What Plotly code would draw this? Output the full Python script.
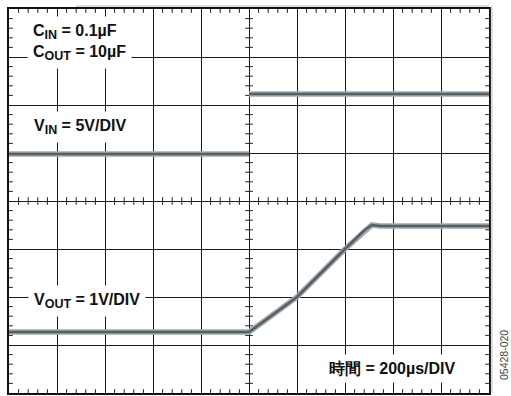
import plotly.graph_objects as go

# time in microseconds (10 div x 200 us), vertical in divisions (8 div)
vin_t = [0, 1000, None, 1000, 2000]
vin_div = [4.98, 4.98, None, 6.23, 6.23]

vout_t = [0, 1000, 1058, 1200, 1400, 1483, 1512, 1546, 2000]
vout_div = [1.27, 1.27, 1.48, 2.0, 3.0, 3.40, 3.50, 3.48, 3.48]

x_major = 200
y_major = 1
n_minor = 5

fig = go.Figure()
for t, v in [(vin_t, vin_div), (vout_t, vout_div)]:
    fig.add_trace(go.Scatter(x=t, y=v, mode="lines", connectgaps=False,
                             line=dict(color="#a3aaad", width=5.5), hoverinfo="skip"))
    fig.add_trace(go.Scatter(x=t, y=v, mode="lines", connectgaps=False,
                             line=dict(color="#566064", width=2.5), hoverinfo="skip"))

shapes = []
tick_x = 16
tick_y = 0.08
xmin, xmax, ymin, ymax = 0, 2000, 0, 8
xc, yc = 1000, 4
line = dict(color="#222", width=1)
nx = int((xmax - xmin) / x_major * n_minor)
for i in range(1, nx):
    if i % n_minor == 0:
        continue
    x = xmin + i * x_major / n_minor
    shapes.append(dict(type="line", x0=x, x1=x, y0=ymin, y1=ymin + tick_y, line=line, layer="below"))
    shapes.append(dict(type="line", x0=x, x1=x, y0=ymax - tick_y, y1=ymax, line=line, layer="below"))
    shapes.append(dict(type="line", x0=x, x1=x, y0=yc - tick_y, y1=yc + tick_y, line=line, layer="below"))
ny = int((ymax - ymin) / y_major * n_minor)
for i in range(1, ny):
    if i % n_minor == 0:
        continue
    y = ymin + i * y_major / n_minor
    shapes.append(dict(type="line", x0=xmin, x1=xmin + tick_x, y0=y, y1=y, line=line, layer="below"))
    shapes.append(dict(type="line", x0=xmax - tick_x, x1=xmax, y0=y, y1=y, line=line, layer="below"))
    shapes.append(dict(type="line", x0=xc - tick_x, x1=xc + tick_x, y0=y, y1=y, line=line, layer="below"))

# faint scan edges (top and right)
shapes.append(dict(type="line", xref="paper", yref="paper", x0=0.14, x1=1.0, y0=1.008, y1=1.008,
                   line=dict(color="#dcdcdc", width=2)))
shapes.append(dict(type="line", xref="paper", yref="paper", x0=1.006, x1=1.006, y0=0.0, y1=1.008,
                   line=dict(color="#dcdcdc", width=2)))


def sub(s):
    return "<sub><span style='font-size:12.5px'>" + s + "</span></sub>"


font = dict(family="Liberation Sans, Arial, sans-serif", size=16, color="#111", weight="bold")
ann = [
    dict(x=75, y=7.30, text="C" + sub("IN") + " = 0.1µF<br>C" + sub("OUT") + " = 10µF"),
    dict(x=79, y=5.54, text="V" + sub("IN") + " = 5V/DIV"),
    dict(x=79, y=1.92, text="V" + sub("OUT") + " = 1V/DIV"),
    dict(x=1308, y=0.51, text="時間 = 200µs/DIV"),
]
annotations = []
for a in ann:
    annotations.append(dict(**a, xref="x", yref="y", xanchor="left", yanchor="middle", align="left",
                            showarrow=False, font=font, bgcolor="white", borderpad=5))
annotations.append(dict(x=1.03, y=0.10, xref="paper", yref="paper", text="05428-020",
                        textangle=-90, showarrow=False, xanchor="center", yanchor="middle",
                        font=dict(family="Liberation Sans, Arial, sans-serif", size=10.5, color="#444")))

axis_common = dict(showgrid=True, gridcolor="#1a1a1a", gridwidth=1.3, zeroline=False,
                   showline=True, linecolor="#111", linewidth=2, mirror=True,
                   showticklabels=False, ticks="", fixedrange=True)
fig.update_layout(
    width=511, height=396,
    margin=dict(l=9, r=22, t=9, b=3),
    paper_bgcolor="white", plot_bgcolor="white",
    showlegend=False,
    xaxis=dict(range=[xmin, xmax], dtick=x_major, **axis_common),
    yaxis=dict(range=[ymin, ymax], dtick=y_major, **axis_common),
    shapes=shapes,
    annotations=annotations,
)
fig.write_html("out.html")
